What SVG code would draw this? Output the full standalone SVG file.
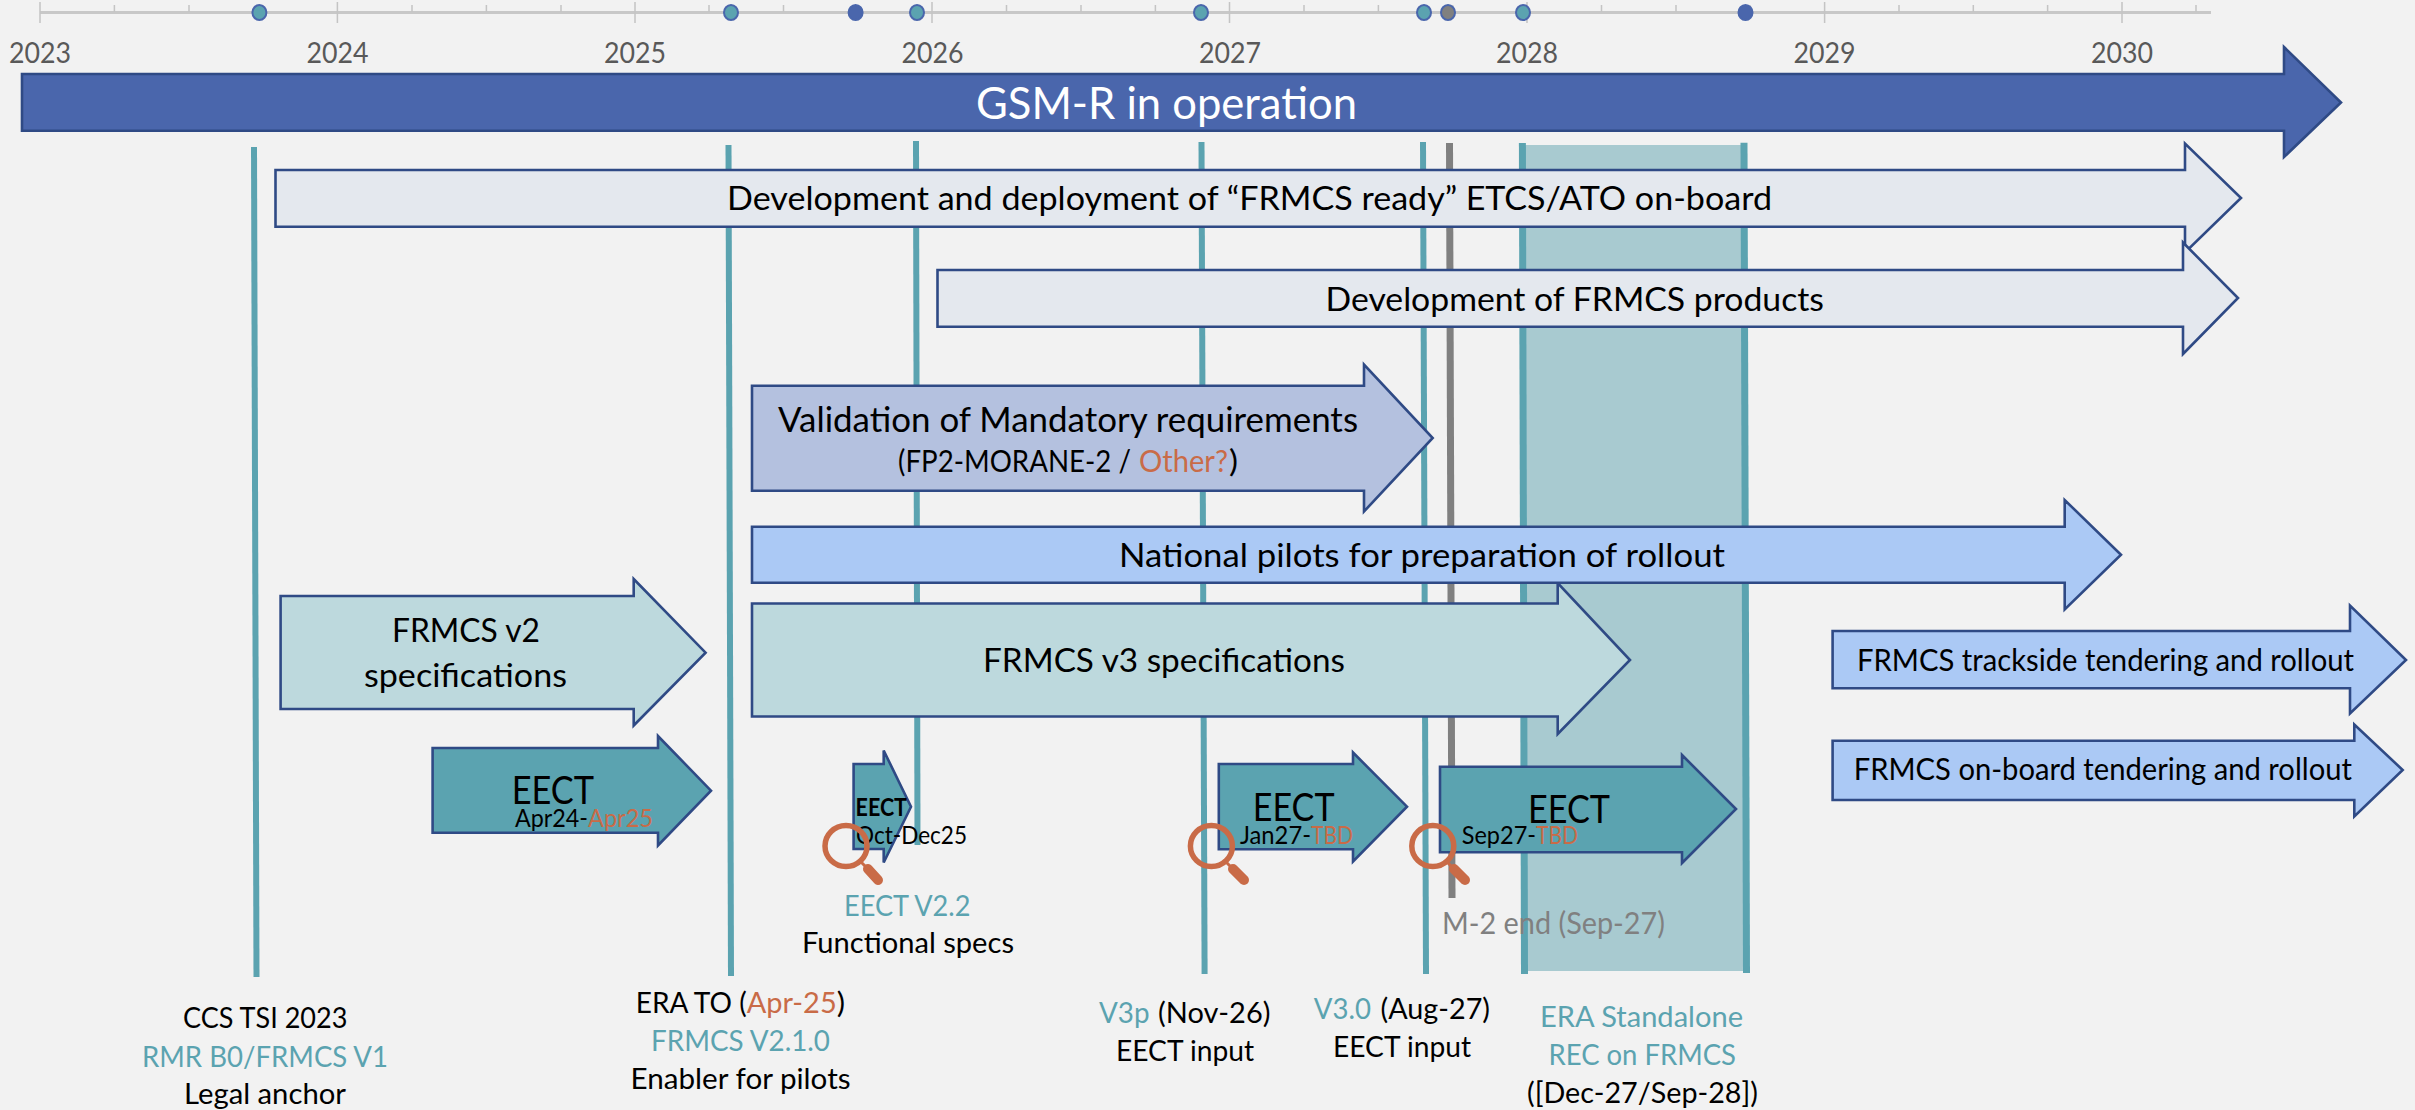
<svg xmlns="http://www.w3.org/2000/svg" width="2415" height="1110" viewBox="0 0 2415 1110">
<style>
text{font-family:Lato,"Open Sans","Liberation Sans",sans-serif;fill:#000;font-size:32.5px}
.yr{fill:#595959;font-size:29px}
.s30{font-size:30px}.s29{font-size:29px}.s25{font-size:25px}.s38{font-size:38px}.s34{font-size:34.5px}
.teal{fill:#5BA3B0}.or{fill:#C96B47}.grey{fill:#808080}
.ar{stroke:#2F4A85;stroke-width:2.6;stroke-linejoin:miter}
.gsm{fill:#4A66AC}.pale{fill:#E4E8EE}.val{fill:#B4C1DF}.nat{fill:#ABC9F5}.spec{fill:#BDD9DD}.eect{fill:#5BA3B0}
.ml{stroke:#5BA3B0;stroke-width:6;fill:none}
.tk{stroke:#C4C4C4;stroke-width:1.5}
.dot{stroke:#4A66AC;stroke-width:2}
.mg{fill:none;stroke:#C96B47;stroke-linecap:round}
</style>
<rect width="2415" height="1110" fill="#F2F2F2"/>
<g id="timeline">
<line x1="40" y1="12.5" x2="2211" y2="12.5" stroke="#C8C8C8" stroke-width="3"/>
<path class="tk" d="M40 2V23M337.4 2V23M635 2V23M932 2V23M1229.5 2V23M1527 2V23M1824.6 2V23M2122 2V23M114.4 5V12M189 5V12M263 5V12M412 5V12M486.4 5V12M561 5V12M709 5V12M783.5 5V12M858 5V12M1006.5 5V12M1081 5V12M1155.4 5V12M1304 5V12M1378.4 5V12M1452.7 5V12M1601.5 5V12M1676 5V12M1750 5V12M1899 5V12M1973.3 5V12M2047.6 5V12M2196 5V12"/>
<g class="dot" fill="#5BA3B0">
<ellipse cx="259.4" cy="12.5" rx="7" ry="7.5"/><ellipse cx="731" cy="12.5" rx="7" ry="7.5"/><ellipse cx="917" cy="12.5" rx="7" ry="7.5"/><ellipse cx="1201" cy="12.5" rx="7" ry="7.5"/><ellipse cx="1424" cy="12.5" rx="7" ry="7.5"/><ellipse cx="1523" cy="12.5" rx="7" ry="7.5"/>
<ellipse cx="855.6" cy="12.5" rx="7" ry="7.5" fill="#4A66AC"/><ellipse cx="1745.5" cy="12.5" rx="7" ry="7.5" fill="#4A66AC"/><ellipse cx="1448" cy="12.5" rx="7" ry="7.5" fill="#808080"/>
</g>
<g class="years">
<text class="yr" x="9" y="62.5" textLength="62" lengthAdjust="spacingAndGlyphs">2023</text>
<text class="yr" x="306.5" y="62.5" textLength="62" lengthAdjust="spacingAndGlyphs">2024</text>
<text class="yr" x="604" y="62.5" textLength="62" lengthAdjust="spacingAndGlyphs">2025</text>
<text class="yr" x="901.5" y="62.5" textLength="62" lengthAdjust="spacingAndGlyphs">2026</text>
<text class="yr" x="1199" y="62.5" textLength="62" lengthAdjust="spacingAndGlyphs">2027</text>
<text class="yr" x="1496" y="62.5" textLength="62" lengthAdjust="spacingAndGlyphs">2028</text>
<text class="yr" x="1793.5" y="62.5" textLength="62" lengthAdjust="spacingAndGlyphs">2029</text>
<text class="yr" x="2091" y="62.5" textLength="62" lengthAdjust="spacingAndGlyphs">2030</text>
</g>
</g>
<g id="band"><rect x="1524" y="145" width="222" height="826" fill="#A8CAD0"/></g>
<g id="connectors">
<line class="ml" x1="254" y1="147" x2="256.5" y2="977"/>
<line class="ml" x1="728.5" y1="145" x2="731" y2="976"/>
<line class="ml" x1="916" y1="141" x2="917.5" y2="845"/>
<line class="ml" x1="1201.5" y1="142" x2="1204.6" y2="974"/>
<line class="ml" x1="1423" y1="142" x2="1426" y2="974"/>
<line x1="1449.5" y1="143" x2="1452" y2="898" stroke="#808080" stroke-width="7"/>
<line class="ml" x1="1522.4" y1="143" x2="1524.5" y2="974" style="stroke-width:7"/>
<line class="ml" x1="1744" y1="142.7" x2="1746.5" y2="973" style="stroke-width:7"/>
</g>
<g id="gsmr">
<path class="ar gsm" d="M22 74H2284V47L2341 102.5L2284 157V130.7H22Z"/>
<text x="976" y="118.5" style="font-size:45px;fill:#fff" textLength="381" lengthAdjust="spacingAndGlyphs">GSM-R in operation</text>
</g>
<g id="dev-etcs">
<path class="ar pale" d="M275.5 170H2185V143.5L2241 198L2185 252.5V226.7H275.5Z"/>
<text x="727" y="210" textLength="1045" lengthAdjust="spacingAndGlyphs">Development and deployment of “FRMCS ready” ETCS/ATO on-board</text>
</g>
<g id="dev-frmcs">
<path class="ar pale" d="M937.5 270H2183V242.5L2238 298L2183 354V326.7H937.5Z"/>
<text x="1325.5" y="310.7" textLength="498.5" lengthAdjust="spacingAndGlyphs">Development of FRMCS products</text>
</g>
<g id="validation">
<path class="ar val" d="M752 385.7H1364V364.5L1432.7 438L1364 511.5V490.7H752Z"/>
<text class="s34" x="778" y="431.7" textLength="580" lengthAdjust="spacingAndGlyphs">Validation of Mandatory requirements</text>
<text class="s30" y="472"><tspan x="898" textLength="240" lengthAdjust="spacingAndGlyphs">(FP2-MORANE-2 / </tspan><tspan class="or" x="1139" textLength="89" lengthAdjust="spacingAndGlyphs">Other?</tspan><tspan x="1229" textLength="9" lengthAdjust="spacingAndGlyphs">)</tspan></text>
</g>
<g id="spec-v3">
<path class="ar spec" d="M752 603.5H1557.7V583L1630 660L1557.7 734V716.5H752Z"/>
<text x="983" y="672" textLength="362" lengthAdjust="spacingAndGlyphs">FRMCS v3 specifications</text>
</g>
<g id="pilots">
<path class="ar nat" d="M752 526.7H2064.7V500L2121 554.7L2064.7 609.5V582.7H752Z"/>
<text x="1119" y="566.7" textLength="606" lengthAdjust="spacingAndGlyphs">National pilots for preparation of rollout</text>
</g>
<g id="spec-v2">
<path class="ar spec" d="M280.6 596H633.7V579L705.6 652.7L633.7 725.5V709H280.6Z"/>
<text x="392" y="642" textLength="148" lengthAdjust="spacingAndGlyphs">FRMCS v2</text>
<text x="364" y="686.7" textLength="203" lengthAdjust="spacingAndGlyphs">specifications</text>
</g>
<g id="eect-1">
<path class="ar eect" d="M432.6 748H658V736L711 790.7L658 845.5V832.7H432.6Z"/>
<text class="s38" x="511.7" y="804" textLength="82.3" lengthAdjust="spacingAndGlyphs">EECT</text>
<text class="s25" y="826.7"><tspan x="515" textLength="73" lengthAdjust="spacingAndGlyphs">Apr24-</tspan><tspan class="or" x="588" textLength="65" lengthAdjust="spacingAndGlyphs">Apr25</tspan></text>
</g>
<g id="eect-2">
<path class="ar eect" d="M853.6 764H883.7V750.5L911 806.7L883.7 862.5V849H853.6Z"/>
<text class="s25" style="font-weight:700" x="855.6" y="816" textLength="51.4" lengthAdjust="spacingAndGlyphs">EECT</text>
<text class="s25" x="856" y="844" textLength="111" lengthAdjust="spacingAndGlyphs">Oct-Dec25</text>
<g class="mg"><ellipse cx="846" cy="846" rx="21" ry="20.5" stroke-width="5.5"/><line x1="861" y1="862" x2="866" y2="867" stroke-width="3"/><line x1="868" y1="869" x2="878" y2="880" stroke-width="10"/></g>
<text class="s29 teal" x="844" y="916" textLength="126.4" lengthAdjust="spacingAndGlyphs">EECT V2.2</text>
<text class="s29" x="802" y="953" textLength="212" lengthAdjust="spacingAndGlyphs">Functional specs</text>
</g>
<g id="eect-3">
<path class="ar eect" d="M1218.8 764H1353V752.5L1407 806.7L1353 861.5V849.3H1218.8Z"/>
<text class="s38" x="1252.8" y="821" textLength="81.7" lengthAdjust="spacingAndGlyphs">EECT</text>
<text class="s25" y="844.3"><tspan x="1240" textLength="71" lengthAdjust="spacingAndGlyphs">Jan27-</tspan><tspan class="or" x="1311" textLength="42" lengthAdjust="spacingAndGlyphs">TBD</tspan></text>
<g class="mg"><ellipse cx="1211.4" cy="846" rx="21" ry="20.5" stroke-width="5.5"/><line x1="1226" y1="862" x2="1231" y2="867" stroke-width="3"/><line x1="1233" y1="869" x2="1244" y2="880" stroke-width="10"/></g>
</g>
<g id="eect-4">
<path class="ar eect" d="M1440 766.7H1682V755L1736 809L1682 863V852.3H1440Z"/>
<text class="s38" x="1528" y="823" textLength="82" lengthAdjust="spacingAndGlyphs">EECT</text>
<text class="s25" y="844.3"><tspan x="1461.8" textLength="74.2" lengthAdjust="spacingAndGlyphs">Sep27-</tspan><tspan class="or" x="1536" textLength="42" lengthAdjust="spacingAndGlyphs">TBD</tspan></text>
<g class="mg"><ellipse cx="1432.8" cy="846" rx="21" ry="20.5" stroke-width="5.5"/><line x1="1447" y1="862" x2="1452" y2="867" stroke-width="3"/><line x1="1454" y1="869" x2="1465" y2="880" stroke-width="10"/></g>
</g>
<g id="m2-end"><text class="s30 grey" x="1442" y="934" textLength="223" lengthAdjust="spacingAndGlyphs">M-2 end (Sep-27)</text></g>
<g id="trackside">
<path class="ar nat" d="M1832.6 631H2350V605.5L2406 660L2350 713.5V688.3H1832.6Z"/>
<text class="s30" x="1857" y="670.7" textLength="497" lengthAdjust="spacingAndGlyphs">FRMCS trackside tendering and rollout</text>
</g>
<g id="onboard">
<path class="ar nat" d="M1832.6 740.7H2354.3V724.5L2402.7 770L2354.3 816.5V800H1832.6Z"/>
<text class="s30" x="1853.7" y="780" textLength="498.3" lengthAdjust="spacingAndGlyphs">FRMCS on-board tendering and rollout</text>
</g>
<g id="label-ccs">
<text class="s29" x="183" y="1027.7" textLength="164.4" lengthAdjust="spacingAndGlyphs">CCS TSI 2023</text>
<text class="s29 teal" x="142" y="1066.7" textLength="246" lengthAdjust="spacingAndGlyphs">RMR B0/FRMCS V1</text>
<text class="s29" x="184" y="1104" textLength="162" lengthAdjust="spacingAndGlyphs">Legal anchor</text>
</g>
<g id="label-era-to">
<text class="s29" y="1013.3"><tspan x="635.7" textLength="111" lengthAdjust="spacingAndGlyphs">ERA TO (</tspan><tspan class="or" x="746.7" textLength="90" lengthAdjust="spacingAndGlyphs">Apr-25</tspan><tspan x="836.7" textLength="8.3" lengthAdjust="spacingAndGlyphs">)</tspan></text>
<text class="s29 teal" x="651" y="1050.7" textLength="179" lengthAdjust="spacingAndGlyphs">FRMCS V2.1.0</text>
<text class="s29" x="630.6" y="1089" textLength="220" lengthAdjust="spacingAndGlyphs">Enabler for pilots</text>
</g>
<g id="label-v3p">
<text class="s29" y="1023.3"><tspan class="teal" x="1099" textLength="50.5" lengthAdjust="spacingAndGlyphs">V3p</tspan><tspan x="1158" textLength="112.4" lengthAdjust="spacingAndGlyphs">(Nov-26)</tspan></text>
<text class="s29" x="1116" y="1061" textLength="138" lengthAdjust="spacingAndGlyphs">EECT input</text>
</g>
<g id="label-v30">
<text class="s29" y="1019.3"><tspan class="teal" x="1313.8" textLength="57.2" lengthAdjust="spacingAndGlyphs">V3.0</tspan><tspan x="1380.6" textLength="109.4" lengthAdjust="spacingAndGlyphs">(Aug-27)</tspan></text>
<text class="s29" x="1333" y="1057" textLength="138" lengthAdjust="spacingAndGlyphs">EECT input</text>
</g>
<g id="label-era-rec">
<text class="s29 teal" x="1540" y="1026.7" textLength="203" lengthAdjust="spacingAndGlyphs">ERA Standalone</text>
<text class="s29 teal" x="1548.5" y="1065" textLength="187.5" lengthAdjust="spacingAndGlyphs">REC on FRMCS</text>
<text class="s29" x="1527" y="1103" textLength="231" lengthAdjust="spacingAndGlyphs">([Dec-27/Sep-28])</text>
</g>
</svg>
